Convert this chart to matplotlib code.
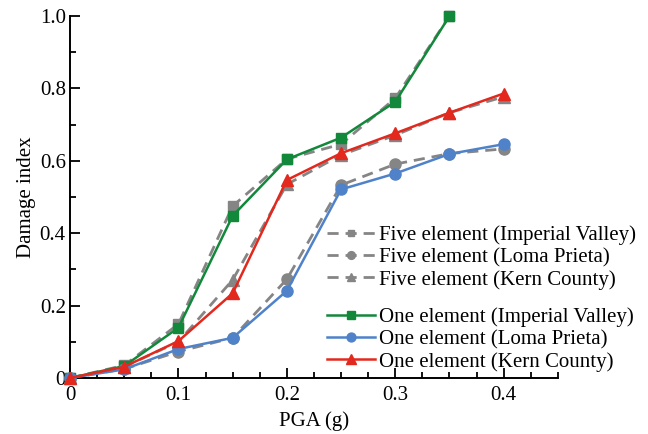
import matplotlib
matplotlib.use("Agg")
import matplotlib.pyplot as plt
from matplotlib.ticker import MultipleLocator, FixedLocator, FixedFormatter

plt.rcParams['font.family'] = ['Liberation Serif', 'DejaVu Serif']

pga = [0, 0.05, 0.1, 0.15, 0.2, 0.25, 0.3, 0.35, 0.4]

# five element model (dashed gray)
five_iv = [0, 0.035, 0.149, 0.475, 0.605, 0.646, 0.773, 1.0]
five_lp = [0, 0.025, 0.073, 0.111, 0.273, 0.533, 0.591, 0.62, 0.633]
five_kc = [0, 0.031, 0.10, 0.271, 0.535, 0.616, 0.671, 0.733, 0.777]

# one element model
one_iv = [0, 0.033, 0.139, 0.448, 0.604, 0.664, 0.763, 1.0]
one_lp = [0, 0.024, 0.08, 0.111, 0.241, 0.521, 0.565, 0.619, 0.646]
one_kc = [0, 0.031, 0.102, 0.234, 0.547, 0.621, 0.676, 0.733, 0.786]

five_labels = ['Five element (Imperial Valley)', 'Five element (Loma Prieta)',
               'Five element (Kern County)']
one_labels = ['One element (Imperial Valley)', 'One element (Loma Prieta)',
              'One element (Kern County)']

GRAY = '#858585'
GREEN = '#12883a'
BLUE = '#4f82c9'
RED = '#e3281d'

fig = plt.figure(figsize=(6.48, 4.34), dpi=100)
ax = fig.add_axes([0.108, 0.129, 0.753, 0.834])

dash = dict(color=GRAY, lw=2.0, ls=(0, (4, 2.5)), zorder=2, clip_on=False)
h5 = []
h5 += ax.plot(pga[:len(five_iv)], five_iv, marker='s', ms=7, **dash)
h5 += ax.plot(pga, five_lp, marker='o', ms=8, **dash)
h5 += ax.plot(pga, five_kc, marker='^', ms=8.5, **dash)

solid = dict(lw=1.8, zorder=3, clip_on=False)
h1 = []
h1 += ax.plot(pga[:len(one_iv)], one_iv, color=GREEN, marker='s', ms=6.5, **solid)
h1 += ax.plot(pga, one_lp, color=BLUE, marker='o', ms=8, **solid)
h1 += ax.plot(pga, one_kc, color=RED, marker='^', ms=9, **solid)

ax.set_xlim(0, 0.45)
ax.set_ylim(0, 1.0)
ax.spines['top'].set_visible(False)
ax.spines['right'].set_visible(False)
for s in ('left', 'bottom'):
    ax.spines[s].set_linewidth(1.4)

ax.xaxis.set_major_locator(FixedLocator([0, 0.1, 0.2, 0.3, 0.4]))
ax.xaxis.set_major_formatter(FixedFormatter(['0', '0.1', '0.2', '0.3', '0.4']))
ax.xaxis.set_minor_locator(MultipleLocator(0.025))
ax.yaxis.set_major_locator(FixedLocator([0, 0.2, 0.4, 0.6, 0.8, 1.0]))
ax.yaxis.set_major_formatter(FixedFormatter(['0', '0.2', '0.4', '0.6', '0.8', '1.0']))
ax.yaxis.set_minor_locator(MultipleLocator(0.1))
ax.tick_params(which='both', direction='in', width=1.3, labelsize=15)
ax.tick_params(which='major', length=7)
ax.tick_params(which='minor', length=4.5)
ax.tick_params(axis='x', pad=6)
ax.tick_params(axis='y', pad=3)

ax.set_xlabel('PGA (g)', fontsize=15, labelpad=4)
ax.set_ylabel('Damage index', fontsize=15, labelpad=3)

leg_kw = dict(frameon=False, fontsize=15, handlelength=2.3, handletextpad=0.2,
              labelspacing=0.12, borderaxespad=0, borderpad=0, loc='upper left')
fig.legend(h5, five_labels, bbox_to_anchor=(0.505, 0.48), markerscale=0.7, **leg_kw)
fig.legend(h1, one_labels, bbox_to_anchor=(0.505, 0.291), markerscale=0.8, **leg_kw)

fig.savefig('out.png', dpi=100)
